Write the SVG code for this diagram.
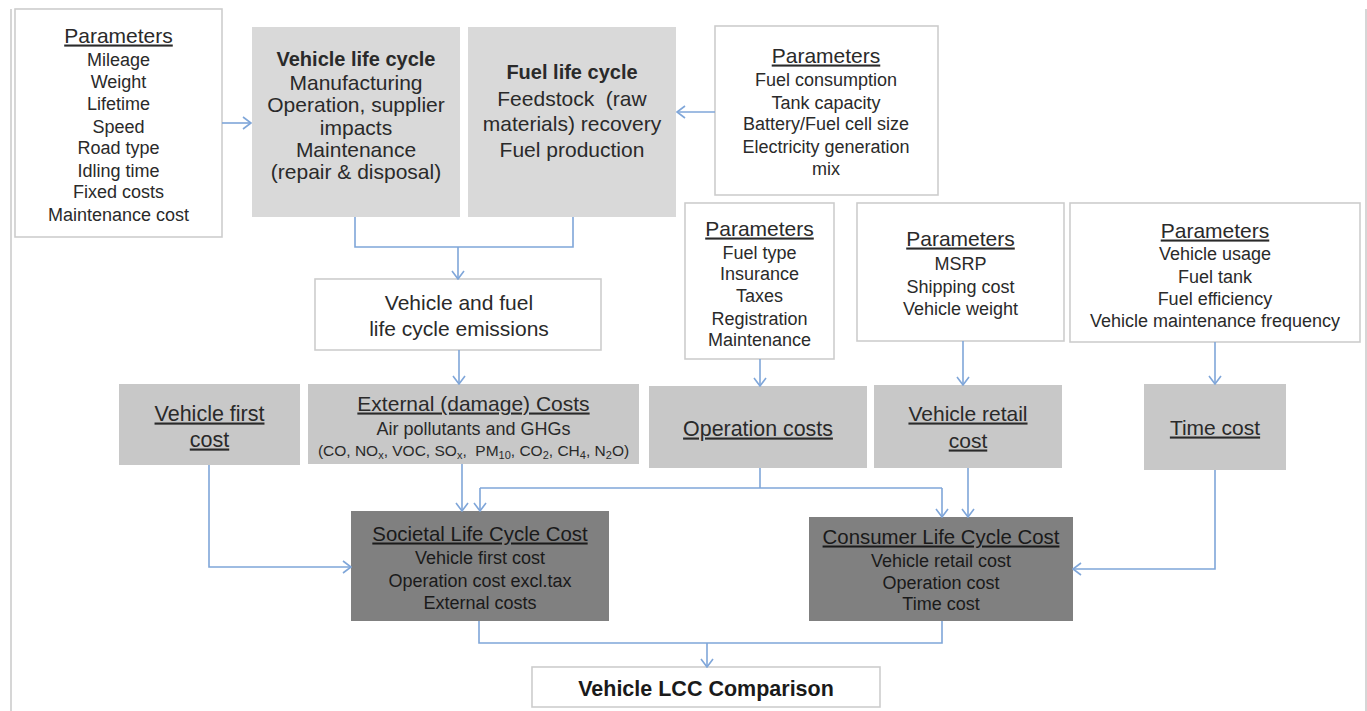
<svg xmlns="http://www.w3.org/2000/svg" width="1367" height="711" viewBox="0 0 1367 711">
<defs>
<style>
text{font-family:"Liberation Sans",Arial,sans-serif;fill:#2a2a2a;text-anchor:middle}
.wb{fill:#ffffff;stroke:#cdcdcd;stroke-width:1.6}
.g1{fill:#d9d9d9}
.g2{fill:#c8c8c8}
.g3{fill:#808080}
.h{font-size:21px;text-decoration:underline}
.p{font-size:18px}
.b{font-size:21px}
.bold{font-weight:bold}
.conn{fill:none;stroke:#7fa6d9;stroke-width:1.6}
.arr{marker-end:url(#ah)}
.frame{stroke:#d6d6d6;stroke-width:2}
</style>
<marker id="ah" viewBox="0 0 10 14" refX="9" refY="7" markerWidth="10" markerHeight="14" markerUnits="userSpaceOnUse" orient="auto">
<path d="M1,1 L9,7 L1,13" fill="none" stroke="#7fa6d9" stroke-width="1.6"/>
</marker>
</defs>
<rect width="1367" height="711" fill="#ffffff"/>
<line class="frame" x1="11" y1="9" x2="11" y2="711"/>
<line class="frame" x1="1366" y1="9" x2="1366" y2="711"/>

<g id="params-vehicle">
<rect class="wb" x="15" y="9" width="207" height="228"/>
<text class="h" x="118.5" y="42.5">Parameters</text>
<text class="p" x="118.5" y="66">Mileage</text>
<text class="p" x="118.5" y="88">Weight</text>
<text class="p" x="118.5" y="110">Lifetime</text>
<text class="p" x="118.5" y="132.5">Speed</text>
<text class="p" x="118.5" y="154">Road type</text>
<text class="p" x="118.5" y="176.5">Idling time</text>
<text class="p" x="118.5" y="198">Fixed costs</text>
<text class="p" x="118.5" y="221">Maintenance cost</text>
</g>

<g id="vehicle-life-cycle">
<rect class="g1" x="252" y="27" width="208" height="190"/>
<text class="bold" style="font-size:20px" x="356" y="66">Vehicle life cycle</text>
<text class="b" x="356" y="89.5">Manufacturing</text>
<text class="b" x="356" y="111.5">Operation, supplier</text>
<text class="b" x="356" y="134.5">impacts</text>
<text class="b" x="356" y="156.5">Maintenance</text>
<text class="b" x="356" y="178.5">(repair &amp; disposal)</text>
</g>

<g id="fuel-life-cycle">
<rect class="g1" x="468" y="27" width="208" height="190"/>
<text class="bold" style="font-size:20px" x="572" y="79">Fuel life cycle</text>
<text class="b" x="572" y="106" xml:space="preserve">Feedstock  (raw</text>
<text class="b" x="572" y="131">materials) recovery</text>
<text class="b" x="572" y="157">Fuel production</text>
</g>

<g id="params-fuel">
<rect class="wb" x="715" y="26" width="223" height="169"/>
<text class="h" x="826" y="62.5">Parameters</text>
<text class="p" x="826" y="85.5">Fuel consumption</text>
<text class="p" x="826" y="108.5">Tank capacity</text>
<text class="p" x="826" y="129.5">Battery/Fuel cell size</text>
<text class="p" x="826" y="152.5">Electricity generation</text>
<text class="p" x="826" y="174.5">mix</text>
</g>

<g id="emissions">
<rect class="wb" x="315" y="279" width="286" height="71"/>
<text class="b" x="459" y="309.5">Vehicle and fuel</text>
<text class="b" x="459" y="335.5">life cycle emissions</text>
</g>

<g id="params-operation">
<rect class="wb" x="685" y="203" width="149" height="156"/>
<text class="h" x="759.5" y="235.5">Parameters</text>
<text class="p" x="759.5" y="258.5">Fuel type</text>
<text class="p" x="759.5" y="279.5">Insurance</text>
<text class="p" x="759.5" y="301.5">Taxes</text>
<text class="p" x="759.5" y="324.5">Registration</text>
<text class="p" x="759.5" y="345.5">Maintenance</text>
</g>

<g id="params-retail">
<rect class="wb" x="857" y="203" width="207" height="138"/>
<text class="h" x="960.5" y="245.5">Parameters</text>
<text class="p" x="960.5" y="269.5">MSRP</text>
<text class="p" x="960.5" y="292.5">Shipping cost</text>
<text class="p" x="960.5" y="314.5">Vehicle weight</text>
</g>

<g id="params-time">
<rect class="wb" x="1070" y="203" width="290" height="139"/>
<text class="h" x="1215" y="237.5">Parameters</text>
<text class="p" x="1215" y="259.5">Vehicle usage</text>
<text class="p" x="1215" y="282.5">Fuel tank</text>
<text class="p" x="1215" y="304.5">Fuel efficiency</text>
<text class="p" x="1215" y="326.5">Vehicle maintenance frequency</text>
</g>

<g id="vehicle-first-cost">
<rect class="g2" x="119" y="384" width="181" height="81"/>
<text class="h" style="font-size:21.5px" x="209.5" y="420.5">Vehicle first</text>
<text class="h" style="font-size:21.5px" x="209.5" y="446.5">cost</text>
</g>

<g id="external-costs">
<rect class="g2" x="308" y="384" width="331" height="80"/>
<text class="h" x="473.5" y="410.5">External (damage) Costs</text>
<text class="p" x="473.5" y="434.5">Air pollutants and GHGs</text>
<text style="font-size:15.5px" x="473.5" y="456" xml:space="preserve">(CO, NO<tspan style="font-size:11px" dy="3">x</tspan><tspan dy="-3">, VOC, SO</tspan><tspan style="font-size:11px" dy="3">x</tspan><tspan dy="-3">,  PM</tspan><tspan style="font-size:11px" dy="3">10</tspan><tspan dy="-3">, CO</tspan><tspan style="font-size:11px" dy="3">2</tspan><tspan dy="-3">, CH</tspan><tspan style="font-size:11px" dy="3">4</tspan><tspan dy="-3">, N</tspan><tspan style="font-size:11px" dy="3">2</tspan><tspan dy="-3">O)</tspan></text>
</g>

<g id="operation-costs">
<rect class="g2" x="649" y="386" width="218" height="82"/>
<text class="h" style="font-size:21.4px" x="758" y="435.5">Operation costs</text>
</g>

<g id="vehicle-retail-cost">
<rect class="g2" x="874" y="385" width="188" height="83"/>
<text class="h" x="968" y="420.5">Vehicle retail</text>
<text class="h" x="968" y="447.5">cost</text>
</g>

<g id="time-cost">
<rect class="g2" x="1144" y="384" width="142" height="86"/>
<text class="h" x="1215" y="434.5">Time cost</text>
</g>

<g id="societal-lcc">
<rect class="g3" x="351" y="511" width="258" height="110"/>
<text class="h" style="font-size:20.4px;fill:#1a1a1a" x="480" y="540.5">Societal Life Cycle Cost</text>
<text class="p" style="fill:#1a1a1a" x="480" y="563.5">Vehicle first cost</text>
<text class="p" style="fill:#1a1a1a" x="480" y="586.5">Operation cost excl.tax</text>
<text class="p" style="fill:#1a1a1a" x="480" y="608.5">External costs</text>
</g>

<g id="consumer-lcc">
<rect class="g3" x="809" y="517" width="264" height="104"/>
<text class="h" style="font-size:20.4px;fill:#1a1a1a" x="941" y="543.5">Consumer Life Cycle Cost</text>
<text class="p" style="fill:#1a1a1a" x="941" y="566.5">Vehicle retail cost</text>
<text class="p" style="fill:#1a1a1a" x="941" y="588.5">Operation cost</text>
<text class="p" style="fill:#1a1a1a" x="941" y="609.5">Time cost</text>
</g>

<g id="lcc-comparison">
<rect class="wb" x="532" y="667" width="348" height="40"/>
<text class="bold" style="font-size:21.5px;fill:#1a1a1a" x="706" y="695.5">Vehicle LCC Comparison</text>
</g>

<g id="connectors">
<path class="conn arr" d="M222,123 H251"/>
<path class="conn arr" d="M715,112 H677"/>
<path class="conn" d="M355,217 V247 H573 V217"/>
<path class="conn arr" d="M458,247 V279"/>
<path class="conn arr" d="M459,350 V384"/>
<path class="conn arr" d="M760,359 V386"/>
<path class="conn arr" d="M963,341 V385"/>
<path class="conn arr" d="M1215,342 V384"/>
<path class="conn arr" d="M209,465 V567 H351"/>
<path class="conn arr" d="M462,464 V511"/>
<path class="conn" d="M760,468 V488"/>
<path class="conn" d="M480,488 H942"/>
<path class="conn arr" d="M480,488 V511"/>
<path class="conn arr" d="M942,488 V517"/>
<path class="conn arr" d="M968,468 V517"/>
<path class="conn arr" d="M1215,470 V569 H1073"/>
<path class="conn" d="M479,621 V643 H942 V621"/>
<path class="conn arr" d="M707,643 V667"/>
</g>
</svg>
